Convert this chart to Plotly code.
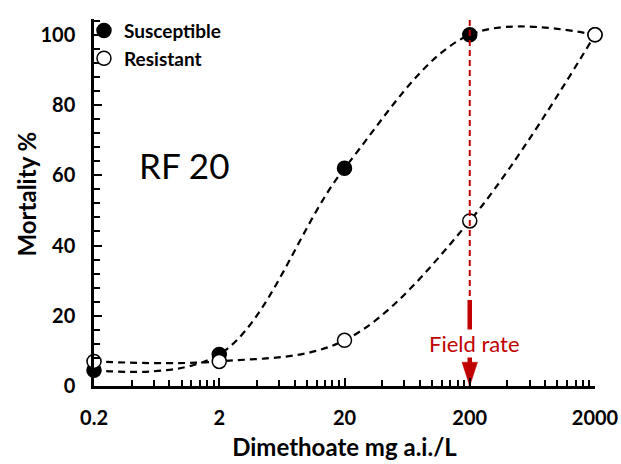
import math
import plotly.graph_objects as go

# ---- data ----
doses = [0.2, 2, 20, 200, 2000]
susceptible = [4.5, 9, 62, 100, 100]
resistant = [7, 7, 13, 47, 100]
field_rate = 200
arrow_top = 24.5
x_ticks = [0.2, 2, 20, 200, 2000]
x_tick_labels = ["0.2", "2", "20", "200", "2000"]
y_ticks = [0, 20, 40, 60, 80, 100]
y_max = 104.5

FONT = "Lato"
RED = "#C00000"

minor_x = [d * k for d in [0.2, 2, 20, 200] for k in range(2, 10)]

fig = go.Figure()

# dashed smoothed curves
for ys in (susceptible, resistant):
    fig.add_trace(go.Scatter(
        x=doses, y=ys, mode="lines", line=dict(color="black", width=2.2, dash="7px,5px", shape="spline"),
        showlegend=False, hoverinfo="skip", cliponaxis=False))

# markers
fig.add_trace(go.Scatter(
    x=doses, y=susceptible, mode="markers", name="<b>Susceptible</b>",
    marker=dict(symbol="circle", size=14, color="black", line=dict(color="black", width=1.5)),
    cliponaxis=False))
fig.add_trace(go.Scatter(
    x=doses, y=resistant, mode="markers", name="<b>Resistant</b>",
    marker=dict(symbol="circle", size=14, color="white", line=dict(color="black", width=1.5)),
    cliponaxis=False))

# field rate vertical dashed line
fig.add_trace(go.Scatter(
    x=[field_rate, field_rate], y=[0, y_max], mode="lines",
    line=dict(color=RED, width=2, dash="6px,4px"), showlegend=False, hoverinfo="skip",
    cliponaxis=False))

# arrow shaft
fig.add_trace(go.Scatter(
    x=[field_rate, field_rate], y=[arrow_top, 3], mode="lines",
    line=dict(color=RED, width=4.5),
    showlegend=False, hoverinfo="skip", cliponaxis=False))

fig.add_annotation(x=math.log10(field_rate), y=12, xref="x", yref="y", text="Field rate",
                   showarrow=False, font=dict(family=FONT, size=22, color=RED),
                   bgcolor="white", borderpad=0, xshift=5)

# arrow head
fig.add_trace(go.Scatter(
    x=[field_rate], y=[0], mode="markers",
    marker=dict(symbol="arrow", angle=180, size=25, color=RED, opacity=1,
                line=dict(width=0.5, color=RED)),
    showlegend=False, hoverinfo="skip", cliponaxis=False))

fig.add_annotation(x=math.log10(1.05), y=63, xref="x", yref="y", text="RF 20",
                   showarrow=False, font=dict(family=FONT, size=35, color="black"))

# y axis title as annotation
fig.add_annotation(x=0, y=0.5, xref="paper", yref="paper", xanchor="center", yanchor="middle",
                   xshift=-68, yshift=8,
                   text="<b>Mortality %</b>", textangle=-90, showarrow=False,
                   font=dict(family=FONT, size=24, color="black"))

fig.update_xaxes(
    type="log", range=[math.log10(0.2), math.log10(2000)], automargin=False,
    tickvals=x_ticks, ticktext=x_tick_labels,
    ticks="inside", ticklen=8, tickwidth=2, tickcolor="black",
    minor=dict(tickvals=minor_x, ticks="inside", ticklen=6, tickwidth=2, tickcolor="black"),
    showline=True, linecolor="black", linewidth=2.5, showgrid=False, zeroline=False,
    tickfont=dict(family=FONT, size=20, color="black", weight="bold"),
    ticklabelstandoff=12,
    title=dict(text="<b>Dimethoate mg a.i./L</b>", font=dict(family=FONT, size=24, color="black"), standoff=12),
)
fig.update_yaxes(
    range=[0, y_max], tickvals=y_ticks, automargin=False,
    ticks="inside", ticklen=8, tickwidth=2, tickcolor="black",
    minor=dict(dtick=4, ticks="inside", ticklen=6, tickwidth=2, tickcolor="black"),
    showline=True, linecolor="black", linewidth=2.5, showgrid=False, zeroline=False,
    tickfont=dict(family=FONT, size=20, color="black", weight="bold"),
    ticklabelstandoff=12,
)

fig.update_layout(
    width=621, height=464,
    margin=dict(l=94, r=26, t=13, b=78),
    plot_bgcolor="white", paper_bgcolor="white",
    legend=dict(x=-0.02, y=1.02, xanchor="left", yanchor="top", bgcolor="rgba(0,0,0,0)",
                font=dict(family=FONT, size=19, color="black", weight="bold"),
                itemwidth=30, tracegroupgap=0),
    showlegend=True,
)

fig.write_html("out.html", config={"displayModeBar": False},
               post_script="document.body.style.margin='0';")
